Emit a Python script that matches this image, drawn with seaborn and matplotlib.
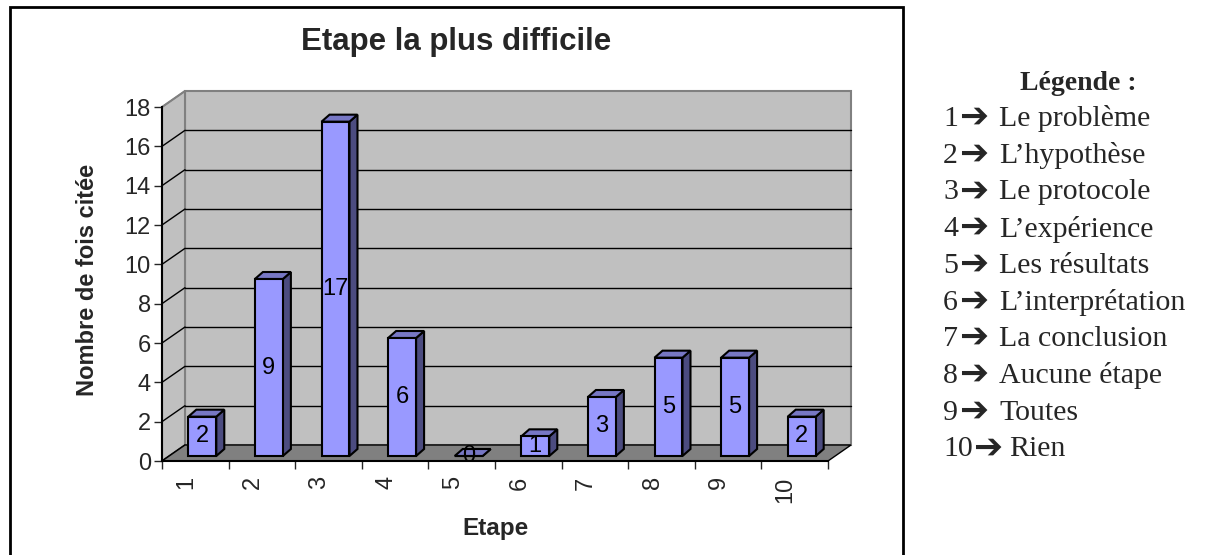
import numpy as np
import pandas as pd
import matplotlib
matplotlib.use("Agg")
import matplotlib.pyplot as plt
import matplotlib.transforms as mtransforms
from matplotlib.patches import Polygon, Rectangle
from matplotlib.lines import Line2D
import seaborn as sns

# ---------------- data ----------------
etapes = ["1", "2", "3", "4", "5", "6", "7", "8", "9", "10"]
counts = [2, 9, 17, 6, 0, 1, 3, 5, 5, 2]
legend_labels = ["Le problème", "L’hypothèse", "Le protocole", "L’expérience",
                 "Les résultats", "L’interprétation", "La conclusion",
                 "Aucune étape", "Toutes", "Rien"]
y_ticks = [0, 2, 4, 6, 8, 10, 12, 14, 16, 18]
title = "Etape la plus difficile"
xlabel = "Etape"
ylabel = "Nombre de fois citée"
legend_title = "Légende :"

sns.set_style("white")
plt.rcParams["font.family"] = ["Liberation Sans", "DejaVu Sans"]

W, H = 1213, 555
fig = plt.figure(figsize=(W / 100, H / 100), dpi=100)

def fx(px):
    return px / W

def fy(py):
    return 1 - py / H

ax = fig.add_axes([fx(162), fy(461), 666 / W, 354 / H])
ax.set_facecolor("none")

df = pd.DataFrame({"etape": etapes, "n": counts})
sns.barplot(data=df, x="etape", y="n", order=etapes, color="#9999FF",
            saturation=1, width=0.42, edgecolor="black", linewidth=1.5,
            ax=ax, zorder=5)
ax.set_xlim(-0.5, len(etapes) - 0.5)
ax.set_ylim(0, 18)

# depth offsets (pixels, display coords: +y is up)
WALL = np.array([23.0, 16.0])
FRONT = np.array([7.0, 5.0])
DEPTH = np.array([8.0, 7.0])

ident = mtransforms.IdentityTransform()

def T(x, y, off=(0, 0)):
    return ax.transData.transform((x, y)) + np.asarray(off)

x0, x1 = -0.5, len(etapes) - 0.5
ymax = 18

# back wall
back = [T(x0, 0, WALL), T(x1, 0, WALL), T(x1, ymax, WALL), T(x0, ymax, WALL)]
ax.add_patch(Polygon(back, closed=True, facecolor="#C0C0C0", edgecolor="#808080",
                     lw=1.5, transform=ident, zorder=0.5, clip_on=False))
# left wall
left = [T(x0, 0), T(x0, ymax), T(x0, ymax, WALL), T(x0, 0, WALL)]
ax.add_patch(Polygon(left, closed=True, facecolor="#C0C0C0", edgecolor="#808080",
                     lw=1.5, transform=ident, zorder=0.6, clip_on=False))
# grid lines on back wall and left wall
for v in y_ticks[1:-1]:
    a, b = T(x0, v, WALL), T(x1, v, WALL)
    ax.add_line(Line2D([a[0], b[0]], [a[1], b[1]], color="black", lw=1.0,
                       transform=ident, zorder=0.7, clip_on=False))
for v in y_ticks:
    a, b = T(x0, v), T(x0, v, WALL)
    ax.add_line(Line2D([a[0], b[0]], [a[1], b[1]],
                       color="black" if v < ymax else "#808080",
                       lw=1.0, transform=ident, zorder=0.7, clip_on=False))
# floor
floor = [T(x0, 0), T(x1, 0), T(x1, 0, WALL), T(x0, 0, WALL)]
ax.add_patch(Polygon(floor, closed=True, facecolor="#808080", edgecolor="black",
                     lw=1.0, transform=ident, zorder=0.8, clip_on=False))

# 3D bars
front_tr = mtransforms.offset_copy(ax.transData, fig=fig, x=FRONT[0], y=FRONT[1], units="dots")
bars = [p for p in ax.patches if isinstance(p, Rectangle)]
for p, val in zip(bars, counts):
    bx, bw, bh = p.get_x(), p.get_width(), p.get_height()
    p.set_transform(front_tr)
    p.set_clip_on(False)
    back_off = FRONT + DEPTH
    top = [T(bx, bh, FRONT), T(bx + bw, bh, FRONT), T(bx + bw, bh, back_off), T(bx, bh, back_off)]
    side = [T(bx + bw, 0, FRONT), T(bx + bw, bh, FRONT), T(bx + bw, bh, back_off),
            T(bx + bw, 0, back_off)]
    ax.add_patch(Polygon(side, closed=True, facecolor="#4C4C80", edgecolor="black",
                         lw=1.5, transform=ident, zorder=4.9, clip_on=False))
    ax.add_patch(Polygon(top, closed=True, facecolor="#7777C4", edgecolor="black",
                         lw=1.5, transform=ident, zorder=4.9, clip_on=False))
    ax.text(bx + bw / 2, bh / 2, str(val), transform=front_tr, ha="center", va="center",
            fontsize=17, color="black", zorder=6)

# axes styling
for s in ["top", "right"]:
    ax.spines[s].set_visible(False)
for s in ["left", "bottom"]:
    ax.spines[s].set_color("black")
    ax.spines[s].set_linewidth(1.5)
    ax.spines[s].set_zorder(3)
ax.set_yticks(y_ticks)
ax.tick_params(axis="y", direction="out", length=6, width=1, labelsize=17, pad=2, left=True)
ax.set_xticks(range(len(etapes)))
ax.set_xticklabels(etapes, rotation=90)
ax.tick_params(axis="x", which="major", length=0, labelsize=17, pad=11)
ax.set_xticks(np.arange(-0.5, len(etapes), 1.0), minor=True)
ax.tick_params(axis="x", which="minor", direction="out", length=6, width=1, bottom=True)
shift = mtransforms.ScaledTranslation(-9 / 100, 0, fig.dpi_scale_trans)
for lab in ax.get_xticklabels():
    lab.set_transform(lab.get_transform() + shift)
ax.set_xlabel("")
ax.set_ylabel("")

fig.text(fx(456), fy(42), title, ha="center", va="center", fontsize=22.5, fontweight="bold")
fig.text(fx(495), fy(529), xlabel, ha="center", va="center", fontsize=17.5, fontweight="bold")
fig.text(fx(88), fy(280), ylabel, ha="center", va="center", rotation=90, fontsize=17,
         fontweight="bold")

# frame
fig.add_artist(Rectangle((fx(10), -0.1), (903 - 10) / W, fy(7) + 0.1, transform=fig.transFigure,
                         fill=False, lw=2, edgecolor="black"))

# legend text
fig.text(fx(1078), fy(83), legend_title, ha="center", va="center", fontsize=20,
         fontweight="bold", family="Liberation Serif")
for i, (num, lab) in enumerate(zip(etapes, legend_labels)):
    yy = fy(119 + 36.7 * i)
    t_num = fig.text(fx(943), yy, num, ha="left", va="center",
                     fontsize=21.5, family="Liberation Serif")
    ax.annotate("➔", xy=(1, 0.5), xycoords=t_num, xytext=(0.5, 1.5), textcoords="offset points",
                ha="left", va="center", fontsize=25, fontweight="bold",
                family="DejaVu Sans", annotation_clip=False)
    fig.text(fx(999 if len(num) == 1 else 1009), yy, lab, ha="left", va="center",
             fontsize=21.5, family="Liberation Serif")

fig.savefig("out.png", dpi=100)
